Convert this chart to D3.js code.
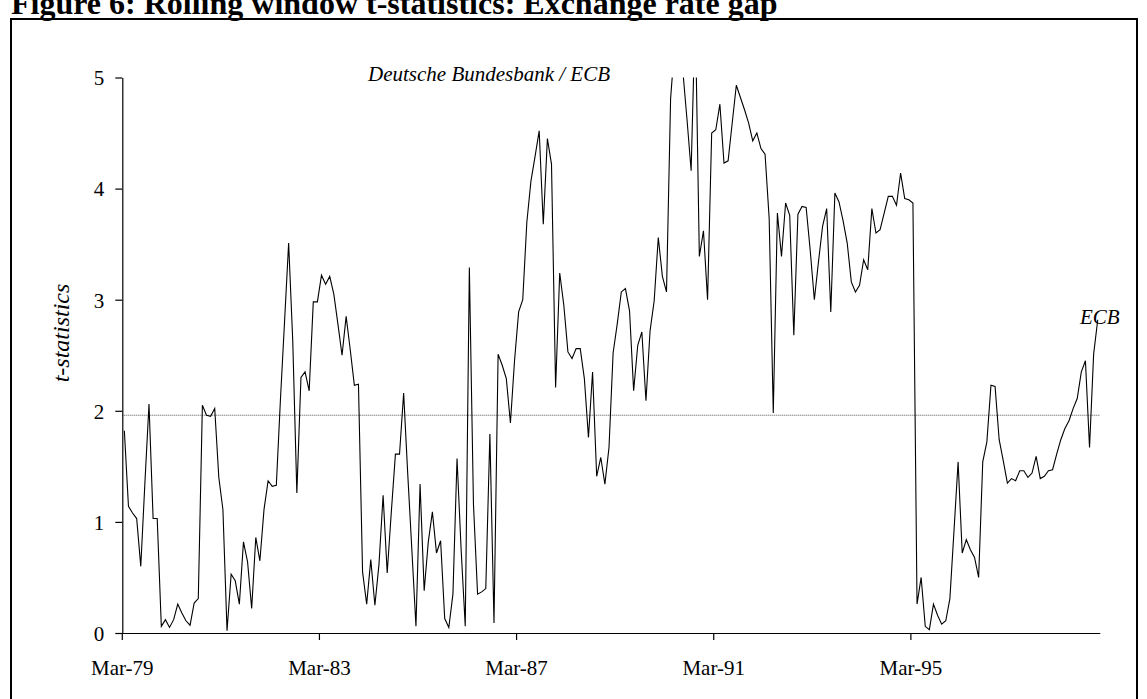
<!DOCTYPE html>
<html>
<head>
  <meta charset="utf-8">
  <script src="https://d3js.org/d3.v7.min.js"></script>
  <style>
    body { margin: 0; background: white; }
    text { font-family: "Liberation Serif", "Times New Roman", serif; fill: black; }
    .axis path, .axis line { stroke: black; stroke-width: 1.2; }
  </style>
</head>
<body>
  <div id="chart"></div>
  <script>
    // monthly t-statistics, Mar-79 onwards (values above 5 are clipped by the axis)
    var tStats = [
      1.82, 1.14, 1.08, 1.03, 0.60, 1.35, 2.06, 1.03, 1.03, 0.06,
      0.12, 0.05, 0.12, 0.26, 0.18, 0.11, 0.07, 0.27, 0.31, 2.05,
      1.96, 1.95, 2.02, 1.40, 1.11, 0.02, 0.53, 0.47, 0.26, 0.82,
      0.64, 0.22, 0.86, 0.65, 1.11, 1.37, 1.32, 1.33, 2.10, 2.80,
      3.51, 2.63, 1.26, 2.30, 2.35, 2.18, 2.98, 2.98, 3.22, 3.14,
      3.21, 3.05, 2.78, 2.50, 2.85, 2.55, 2.23, 2.24, 0.55, 0.26,
      0.66, 0.25, 0.62, 1.24, 0.54, 1.09, 1.61, 1.61, 2.16, 1.43,
      0.75, 0.06, 1.34, 0.38, 0.82, 1.09, 0.72, 0.83, 0.13, 0.05,
      0.35, 1.57, 0.75, 0.06, 3.29, 1.16, 0.35, 0.37, 0.40, 1.79,
      0.09, 2.51, 2.41, 2.29, 1.89, 2.45, 2.89, 3.00, 3.70, 4.07,
      4.29, 4.52, 3.68, 4.45, 4.22, 2.21, 3.24, 2.95, 2.53, 2.47,
      2.56, 2.56, 2.29, 1.76, 2.35, 1.41, 1.58, 1.34, 1.67, 2.52,
      2.78, 3.07, 3.10, 2.90, 2.18, 2.59, 2.71, 2.09, 2.72, 2.99,
      3.56, 3.21, 3.07, 4.81, 5.30, 5.40, 5.05, 4.62, 4.16, 5.60,
      3.39, 3.62, 3.00, 4.50, 4.53, 4.76, 4.23, 4.25, 4.59, 4.93,
      4.82, 4.71, 4.59, 4.43, 4.50, 4.36, 4.31, 3.73, 1.98, 3.78,
      3.39, 3.87, 3.76, 2.68, 3.77, 3.84, 3.83, 3.44, 3.00, 3.34,
      3.66, 3.82, 2.89, 3.96, 3.88, 3.71, 3.51, 3.16, 3.07, 3.13,
      3.36, 3.27, 3.82, 3.60, 3.63, 3.78, 3.93, 3.93, 3.85, 4.14,
      3.91, 3.90, 3.87, 0.26, 0.50, 0.06, 0.03, 0.26, 0.16, 0.08,
      0.11, 0.31, 0.92, 1.54, 0.72, 0.84, 0.75, 0.68, 0.50, 1.54,
      1.72, 2.23, 2.22, 1.74, 1.55, 1.35, 1.39, 1.37, 1.46, 1.46,
      1.40, 1.44, 1.59, 1.39, 1.41, 1.46, 1.47, 1.61, 1.74, 1.84,
      1.91, 2.02, 2.11, 2.35, 2.45, 1.67, 2.51, 2.82
    ];

    var startMonth = new Date(1979, 2, 1);
    var months = d3.timeMonth.range(startMonth, d3.timeMonth.offset(startMonth, tStats.length));
    var fmt = d3.timeFormat("%b-%y");

    var tickLabels = ["Mar-79", "Mar-83", "Mar-87", "Mar-91", "Mar-95"];
    var yTicks = [0, 1, 2, 3, 4, 5];
    var critical = 1.96;

    var width = 1147, height = 699;

    var svg = d3.select("#chart").append("svg")
      .attr("width", width)
      .attr("height", height);

    // title, partly cut off at the top like the original
    svg.append("text")
      .attr("x", 11)
      .attr("y", 14)
      .style("font-size", "32px")
      .style("font-weight", "bold")
      .text("Figure 6: Rolling window t-statistics: Exchange rate gap");

    // frame round the figure
    svg.append("rect")
      .attr("x", 11)
      .attr("y", 19)
      .attr("width", 1126)
      .attr("height", 720)
      .attr("fill", "none")
      .attr("stroke", "black")
      .attr("stroke-width", 2);

    var x = d3.scaleBand()
      .domain(months)
      .range([122.3, 1099.8])
      .paddingInner(0)
      .paddingOuter(0);

    var y = d3.scaleLinear()
      .domain([0, 5])
      .range([633, 77.5]);

    svg.append("clipPath").attr("id", "plotClip")
      .append("rect")
      .attr("x", 122).attr("y", y(5))
      .attr("width", 980).attr("height", y(0) - y(5) + 1);

    // 5% critical value
    svg.append("line")
      .attr("x1", x.range()[0]).attr("x2", x.range()[1])
      .attr("y1", y(critical)).attr("y2", y(critical))
      .attr("stroke", "#555")
      .attr("stroke-width", 1)
      .attr("stroke-dasharray", "1,1");

    var line = d3.line()
      .x(function (d, i) { return x(months[i]) + x.bandwidth() / 2; })
      .y(function (d) { return y(d); });

    svg.append("path")
      .datum(tStats)
      .attr("clip-path", "url(#plotClip)")
      .attr("fill", "none")
      .attr("stroke", "black")
      .attr("stroke-width", 1.1)
      .attr("stroke-linejoin", "miter")
      .attr("d", line);

    // y axis
    var yAxis = svg.append("g")
      .attr("class", "axis")
      .attr("transform", "translate(" + x.range()[0] + ",0)")
      .call(d3.axisLeft(y).tickValues(yTicks).tickSize(7).tickSizeOuter(0).tickPadding(11)
        .tickFormat(d3.format("d")));
    yAxis.selectAll("text").style("font-size", "21px").attr("dy", "0.35em");

    // x axis: ticks sit on the boundaries between months
    var tickMonths = months.filter(function (m) { return tickLabels.indexOf(fmt(m)) >= 0; });
    var xAxis = svg.append("g")
      .attr("class", "axis")
      .attr("transform", "translate(0," + y(0) + ")")
      .call(d3.axisBottom(x).tickValues(tickMonths).tickSize(7).tickSizeOuter(0).tickFormat(fmt));
    xAxis.selectAll(".tick")
      .attr("transform", function (d) { return "translate(" + x(d) + ",0)"; });
    xAxis.selectAll("text")
      .style("font-size", "21px")
      .attr("y", 42)
      .attr("dy", 0);

    // axis title
    svg.append("text")
      .attr("transform", "translate(69," + y(2.7) + ") rotate(-90)")
      .attr("text-anchor", "middle")
      .style("font-size", "24px")
      .style("font-style", "italic")
      .text("t-statistics");

    // regime labels
    svg.append("text")
      .attr("x", 368)
      .attr("y", 81)
      .style("font-size", "21px")
      .style("font-style", "italic")
      .text("Deutsche Bundesbank / ECB");

    svg.append("text")
      .attr("x", 1080)
      .attr("y", 324)
      .style("font-size", "21px")
      .style("font-style", "italic")
      .text("ECB");
  </script>
</body>
</html>
